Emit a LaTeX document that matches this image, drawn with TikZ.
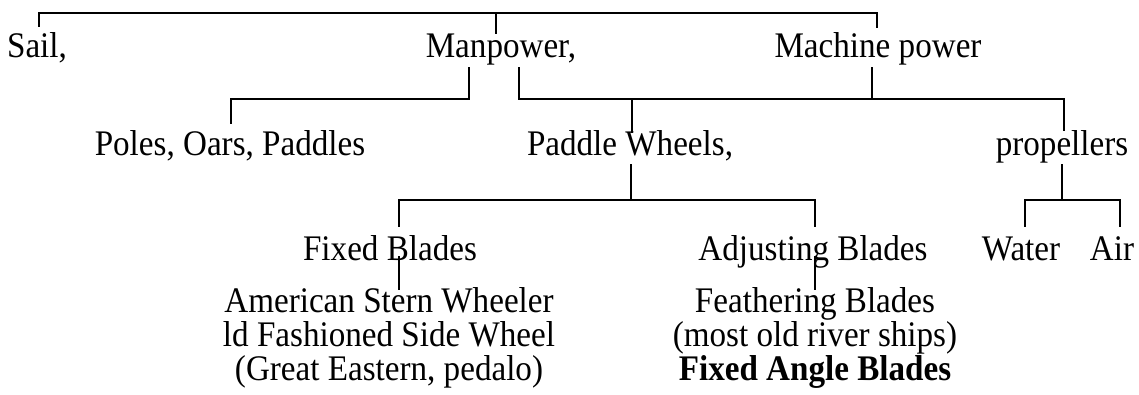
\documentclass[tikz,border=0pt]{standalone}
\usepackage{fontspec}
\setmainfont{Liberation Serif}[FakeStretch=0.92]
\begin{document}
\begin{tikzpicture}[x=1pt,y=-1pt,
  lbl/.style={anchor=base,inner sep=0pt,font=\fontsize{36}{40}\selectfont},
  conn/.style={draw=black,line width=2.2pt,line cap=rect,line join=miter}]
\useasboundingbox (0,0) rectangle (1139,394);
% row 1
\node[lbl] (sail) at (37,57) {Sail,};
\node[lbl] (man) at (501,57) {Manpower,};
\node[lbl] (mach) at (878,57) {Machine power};
% row 2
\node[lbl] (poles) at (230,155) {Poles, Oars, Paddles};
\node[lbl] (paddle) at (630,155) {Paddle Wheels,};
\node[lbl] (prop) at (1062,155) {propellers};
% row 3
\node[lbl] (fixed) at (390,260) {Fixed Blades};
\node[lbl] (adj) at (813,260) {Adjusting Blades};
\node[lbl] (water) at (1021,260) {Water};
\node[lbl] (air) at (1112,260) {Air};
% row 4
\node[lbl] (amA) at (389,312) {American Stern Wheeler};
\node[lbl] (amB) at (389,346) {ld Fashioned Side Wheel};
\node[lbl] (amC) at (389,380) {(Great Eastern, pedalo)};
\node[lbl] (feA) at (815,312) {Feathering Blades};
\node[lbl] (feB) at (815,346) {(most old river ships)};
\node[lbl,font=\fontsize{36}{40}\selectfont\bfseries] (feC) at (815,380) {Fixed Angle Blades};
% junction coordinates
\coordinate (sailT) at (39,26);
\coordinate (topL) at (39,13);
\coordinate (topM) at (496,13);
\coordinate (topR) at (877,13);
\coordinate (manT) at (496,33);
\coordinate (machT) at (877,27);
\coordinate (manBL) at (469,68);
\coordinate (manBR) at (519,68);
\coordinate (barL) at (469,99);
\coordinate (polesJ) at (231,99);
\coordinate (polesT) at (231,123);
\coordinate (barR) at (519,99);
\coordinate (machB) at (872,68);
\coordinate (machJ) at (872,99);
\coordinate (padJ) at (632,99);
\coordinate (padT) at (632,132);
\coordinate (propJ) at (1064,99);
\coordinate (propT) at (1064,130);
\coordinate (padB) at (631,165);
\coordinate (padBar) at (631,200);
\coordinate (fixJ) at (399,200);
\coordinate (fixT) at (399,226);
\coordinate (adjJ) at (815,200);
\coordinate (adjT) at (815,226);
\coordinate (propB) at (1062,165);
\coordinate (propBar) at (1062,200);
\coordinate (watJ) at (1025,200);
\coordinate (watT) at (1025,226);
\coordinate (airJ) at (1120,200);
\coordinate (airT) at (1120,226);
\coordinate (fixB) at (399,257);
\coordinate (amT) at (399,289);
\coordinate (adjB) at (815,257);
\coordinate (feT) at (815,289);
% connectors
\draw[conn] (sailT) -- (topL) -- (topR) -- (machT);
\draw[conn] (topM) -- (manT);
\draw[conn] (manBL) -- (barL) -- (polesJ) -- (polesT);
\draw[conn] (manBR) -- (barR) -- (propJ) -- (propT);
\draw[conn] (machB) -- (machJ);
\draw[conn] (padJ) -- (padT);
\draw[conn] (padB) -- (padBar);
\draw[conn] (fixT) -- (fixJ) -- (adjJ) -- (adjT);
\draw[conn] (propB) -- (propBar);
\draw[conn] (watT) -- (watJ) -- (airJ) -- (airT);
\draw[conn] (fixB) -- (amT);
\draw[conn] (adjB) -- (feT);
\end{tikzpicture}
\end{document}
